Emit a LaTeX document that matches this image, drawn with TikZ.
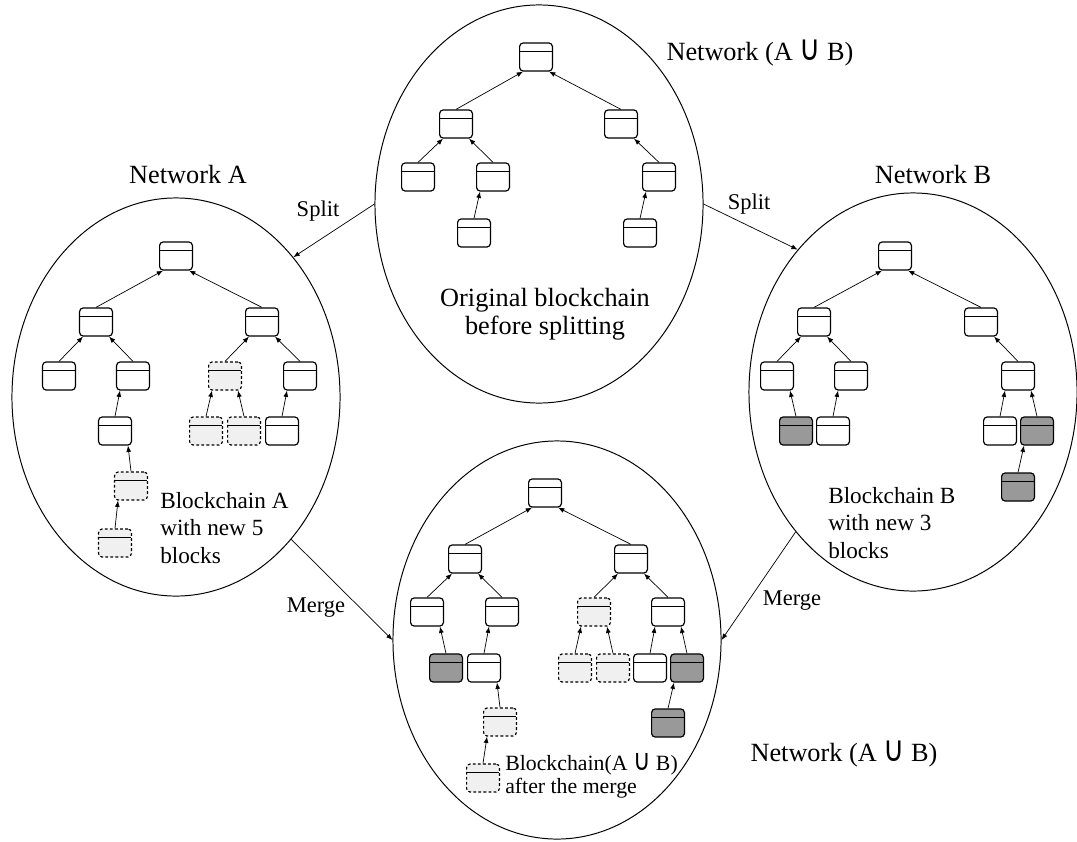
\documentclass[tikz,border=0pt]{standalone}
\usepackage{fontspec}
\setmainfont{Liberation Serif}
\newfontfamily\cupfont{DejaVu Sans}
\usetikzlibrary{shapes.geometric,arrows.meta}
\newcommand{\un}{\scalebox{1.1}[1.35]{\cupfont ∪}}
\tikzset{
	blk/.style={draw,line width=0.85pt,rounded corners=2.5pt,fill=white,
		minimum width=0.82cm,minimum height=0.7cm,inner sep=0pt,
		path picture={\draw[solid,line width=0.85pt]
			([yshift=-0.22cm]path picture bounding box.north west)--
			([yshift=-0.22cm]path picture bounding box.north east);}},
	newA/.style={blk,fill=black!6,dash pattern=on 2pt off 1.6pt},
	newB/.style={blk,fill=black!40},
	net/.style={draw,ellipse,line width=0.7pt,inner sep=0pt,
		minimum width=8.2cm,minimum height=9.95cm},
	lnk/.style={-{Latex[length=4.5pt,width=3.5pt]},line width=0.5pt},
	big/.style={inner sep=0pt,font=\fontsize{18.7}{20}\selectfont},
	lbl/.style={inner sep=0pt,font=\fontsize{16}{19}\selectfont},
	txt/.style={inner sep=0pt,anchor=west,align=left,font=\fontsize{16.5}{19.6}\selectfont}
}
\begin{document}
\begin{tikzpicture}[x=0.025cm,y=-0.025cm,line join=round]
		%==Khung hinh
		\useasboundingbox (0,0) rectangle (1077,841);
		%==Cac mang
		\node[net] (netO) at (539,204) {};
		\node[net] (netA) at (176,397) {};
		\node[net] (netB) at (913,392) {};
		\node[net] (netM) at (557,640) {};
		\draw[lnk] (netO.180)--(netA.50);
		\draw[lnk] (netO.0)--(netB.129);
		\draw[lnk] (netA.-51)--(netM.180);
		\draw[lnk] (netB.230)--(netM.0);
		\node[big] (tO) at (760,53) {Network (A \un{} B)};
		\node[big] (tA) at (188,175) {Network A};
		\node[big] (tB) at (933,175) {Network B};
		\node[big] (tM) at (844,754) {Network (A \un{} B)};
		\node[lbl] (sA) at (318,211) {Split};
		\node[lbl] (sB) at (749,204) {Split};
		\node[lbl] (mA) at (316,608) {Merge};
		\node[lbl] (mB) at (792,601) {Merge};
		%==Chuoi goc
		\node[blk] (O0) at (536,57) {};
		\node[blk] (O1) at (456,124) {};
		\node[blk] (O2) at (621,124) {};
		\node[blk] (O11) at (418,177) {};
		\node[blk] (O12) at (493,177) {};
		\node[blk] (O121) at (474,233) {};
		\node[blk] (O22) at (659,177) {};
		\node[blk] (O221) at (640,233) {};
		\draw[lnk] (O1.north)--([xshift=0.1cm]O0.south west);
		\draw[lnk] (O11.north)--([xshift=0.1cm]O1.south west);
		\draw[lnk] (O121.north)--([xshift=0.1cm]O12.south west);
		\draw[lnk] (O221.north)--([xshift=0.1cm]O22.south west);
		\draw[lnk] (O2.north)--([xshift=-0.1cm]O0.south east);
		\draw[lnk] (O12.north)--([xshift=-0.1cm]O1.south east);
		\draw[lnk] (O22.north)--([xshift=-0.1cm]O2.south east);
		\node[big,align=center] (tOrig) at (545,314) {Original blockchain\\before splitting};
		%==Mang A
		\node[blk] (A0) at (176,256) {};
		\node[blk] (A1) at (96,322) {};
		\node[blk] (A2) at (262,322) {};
		\node[blk] (A11) at (59,376) {};
		\node[blk] (A12) at (133,376) {};
		\node[blk] (A121) at (115,431) {};
		\node[newA] (A1211) at (131,486) {};
		\node[newA] (A12111) at (115,543) {};
		\node[newA] (A21) at (225,376) {};
		\node[blk] (A22) at (300,376) {};
		\node[newA] (A211) at (206,431) {};
		\node[newA] (A212) at (244,431) {};
		\node[blk] (A221) at (282,431) {};
		\draw[lnk] (A1.north)--([xshift=0.1cm]A0.south west);
		\draw[lnk] (A11.north)--([xshift=0.1cm]A1.south west);
		\draw[lnk] (A121.north)--([xshift=0.1cm]A12.south west);
		\draw[lnk] (A12111.north)--([xshift=0.1cm]A1211.south west);
		\draw[lnk] (A21.north)--([xshift=0.1cm]A2.south west);
		\draw[lnk] (A211.north)--([xshift=0.1cm]A21.south west);
		\draw[lnk] (A221.north)--([xshift=0.1cm]A22.south west);
		\draw[lnk] (A2.north)--([xshift=-0.1cm]A0.south east);
		\draw[lnk] (A12.north)--([xshift=-0.1cm]A1.south east);
		\draw[lnk] (A1211.north)--([xshift=-0.1cm]A121.south east);
		\draw[lnk] (A22.north)--([xshift=-0.1cm]A2.south east);
		\draw[lnk] (A212.north)--([xshift=-0.1cm]A21.south east);
		\node[txt] (tChA) at (160,528) {Blockchain A\\with new 5\\blocks};
		%==Mang B
		\node[blk] (B0) at (895,256) {};
		\node[blk] (B1) at (814,322) {};
		\node[blk] (B2) at (981,322) {};
		\node[blk] (B11) at (777,376) {};
		\node[blk] (B12) at (851,376) {};
		\node[newB] (B111) at (796,431) {};
		\node[blk] (B121) at (833,431) {};
		\node[blk] (B22) at (1018,376) {};
		\node[blk] (B221) at (1000,431) {};
		\node[newB] (B222) at (1037,431) {};
		\node[newB] (B2221) at (1018,487) {};
		\draw[lnk] (B1.north)--([xshift=0.1cm]B0.south west);
		\draw[lnk] (B11.north)--([xshift=0.1cm]B1.south west);
		\draw[lnk] (B121.north)--([xshift=0.1cm]B12.south west);
		\draw[lnk] (B221.north)--([xshift=0.1cm]B22.south west);
		\draw[lnk] (B2221.north)--([xshift=0.1cm]B222.south west);
		\draw[lnk] (B2.north)--([xshift=-0.1cm]B0.south east);
		\draw[lnk] (B12.north)--([xshift=-0.1cm]B1.south east);
		\draw[lnk] (B111.north)--([xshift=-0.1cm]B11.south east);
		\draw[lnk] (B22.north)--([xshift=-0.1cm]B2.south east);
		\draw[lnk] (B222.north)--([xshift=-0.1cm]B22.south east);
		\node[txt] (tChB) at (828,523) {Blockchain B\\with new 3\\blocks};
		%==Sau khi gop
		\node[blk] (M0) at (545,493) {};
		\node[blk] (M1) at (465,559) {};
		\node[blk] (M2) at (631,559) {};
		\node[blk] (M11) at (427,612) {};
		\node[blk] (M12) at (502,612) {};
		\node[newB] (M111) at (446,668) {};
		\node[blk] (M121) at (484,668) {};
		\node[newA] (M1211) at (500,722) {};
		\node[newA] (M12111) at (483,778) {};
		\node[newA] (M21) at (594,612) {};
		\node[blk] (M22) at (668,612) {};
		\node[newA] (M211) at (575,668) {};
		\node[newA] (M212) at (613,668) {};
		\node[blk] (M221) at (650,668) {};
		\node[newB] (M222) at (687,668) {};
		\node[newB] (M2221) at (668,723) {};
		\draw[lnk] (M1.north)--([xshift=0.1cm]M0.south west);
		\draw[lnk] (M11.north)--([xshift=0.1cm]M1.south west);
		\draw[lnk] (M121.north)--([xshift=0.1cm]M12.south west);
		\draw[lnk] (M12111.north)--([xshift=0.1cm]M1211.south west);
		\draw[lnk] (M21.north)--([xshift=0.1cm]M2.south west);
		\draw[lnk] (M211.north)--([xshift=0.1cm]M21.south west);
		\draw[lnk] (M221.north)--([xshift=0.1cm]M22.south west);
		\draw[lnk] (M2221.north)--([xshift=0.1cm]M222.south west);
		\draw[lnk] (M2.north)--([xshift=-0.1cm]M0.south east);
		\draw[lnk] (M12.north)--([xshift=-0.1cm]M1.south east);
		\draw[lnk] (M111.north)--([xshift=-0.1cm]M11.south east);
		\draw[lnk] (M1211.north)--([xshift=-0.1cm]M121.south east);
		\draw[lnk] (M22.north)--([xshift=-0.1cm]M2.south east);
		\draw[lnk] (M212.north)--([xshift=-0.1cm]M21.south east);
		\draw[lnk] (M222.north)--([xshift=-0.1cm]M22.south east);
		\node[txt,font=\fontsize{15.5}{16.4}\selectfont] (tChM) at (505,776) {Blockchain(A \un{} B)\\after the merge};
\end{tikzpicture}
\end{document}
